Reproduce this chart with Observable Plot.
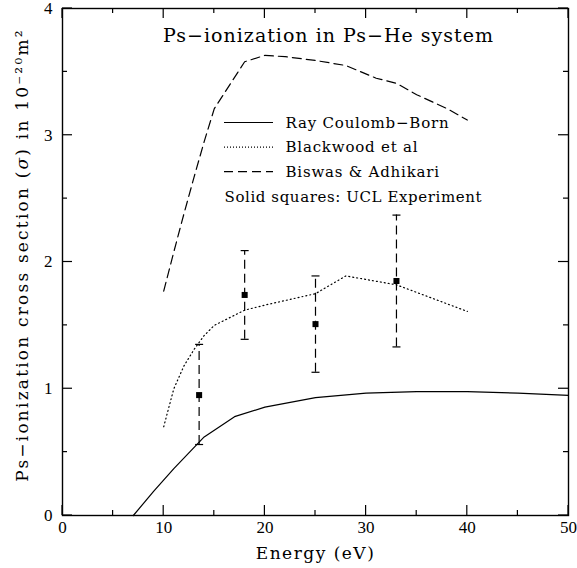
<!DOCTYPE html>
<html><head><meta charset="utf-8">
<script src="https://cdn.jsdelivr.net/npm/d3@7"></script>
<script src="https://cdn.jsdelivr.net/npm/@observablehq/plot@0.6"></script>
<style>
body{margin:0;background:#fff;}
</style>
</head><body><div id="chart"></div>
<script>
// ---- data ----
const energyRay = [7, 9, 11, 14, 17, 20, 25, 30, 35, 40, 45, 50];
const sigmaRay = [0, 0.19, 0.37, 0.62, 0.78, 0.855, 0.93, 0.965, 0.978, 0.977, 0.965, 0.947];
const energyBlackwood = [10, 11, 12, 13, 14, 15, 18, 20, 25, 28, 33, 35, 40];
const sigmaBlackwood = [0.70, 1.0, 1.18, 1.31, 1.42, 1.50, 1.62, 1.66, 1.75, 1.89, 1.82, 1.76, 1.61];
const energyBiswas = [10, 11, 12, 13, 14, 15, 18, 20, 22, 25, 28, 31, 33, 35, 38, 40];
const sigmaBiswas = [1.77, 2.08, 2.38, 2.67, 2.95, 3.21, 3.58, 3.63, 3.62, 3.59, 3.55, 3.45, 3.41, 3.32, 3.21, 3.12];
const energyUCL = [13.5, 18, 25, 33];
const sigmaUCL = [0.95, 1.74, 1.51, 1.85];
const sigmaUCLLow = [0.56, 1.39, 1.13, 1.33];
const sigmaUCLHigh = [1.35, 2.09, 1.89, 2.37];
const xTicks = [0, 10, 20, 30, 40, 50];
const xMinorTicks = [5, 15, 25, 35, 45];
const yTicks = [0, 1, 2, 3, 4];
const yMinorTicks = [0.5, 1.5, 2.5, 3.5];
const legendLabels = ["Ray Coulomb\u2212Born", "Blackwood et al", "Biswas & Adhikari"];
const legendNote = "Solid squares: UCL Experiment";
const title = "Ps\u2212ionization in Ps\u2212He system";
const xLabel = "Energy (eV)";
const yLabel = "Ps\u2212ionization cross section (\u03c3) in 10\u207b\u00b2\u2070m\u00b2";

// ---- styles ----
const dashed = "9,5";
const dotted = "1,3";
const capSymbol = {draw(ctx) { ctx.moveTo(-4, 0); ctx.lineTo(4, 0); }};

const legendStyles = [null, "1,2", dashed];
function legendMark(index, scales, values, dims) {
  const g = d3.create("svg:g").attr("fill", "none").attr("stroke", "black").attr("stroke-width", 1.2);
  legendStyles.forEach((dash, i) => {
    const y = 122.5 + i * 24.6;
    const ln = g.append("line").attr("x1", 224).attr("x2", 273).attr("y1", y).attr("y2", y);
    if (dash) ln.attr("stroke-dasharray", dash);
  });
  return g.node();
}

// inward ticks on all four sides, placed through the plot's scales
function ticksMark(index, scales, values, dims) {
  const {x, y} = scales;
  const left = dims.marginLeft, top = dims.marginTop;
  const right = dims.width - dims.marginRight, bottom = dims.height - dims.marginBottom;
  const g = d3.create("svg:g").attr("stroke", "black").attr("stroke-width", 1.2);
  const add = (x1, y1, x2, y2) => g.append("line").attr("x1", x1).attr("y1", y1).attr("x2", x2).attr("y2", y2);
  for (const [list, len] of [[xTicks, 10], [xMinorTicks, 5]]) {
    for (const v of list) { const px = x(v); add(px, bottom, px, bottom - len); add(px, top, px, top + len); }
  }
  for (const [list, len] of [[yTicks, 10], [yMinorTicks, 5]]) {
    for (const v of list) { const py = y(v); add(left, py, left + len, py); add(right, py, right - len, py); }
  }
  return g.node();
}

const textFont = "DejaVu Serif";
const numFont = "Liberation Serif";

const plot = Plot.plot({
  width: 577, height: 568,
  marginLeft: 62, marginRight: 9, marginTop: 8, marginBottom: 53,
  x: {domain: [0, 50]},
  y: {domain: [0, 4]},
  style: {fontFamily: textFont, background: "white", color: "black", overflow: "visible"},
  marks: [
    Plot.frame({stroke: "black", strokeWidth: 1.4}),
    ticksMark,
    Plot.axisX(xTicks, {anchor: "bottom", tickSize: 0, tickPadding: 5, fontFamily: numFont, fontSize: 17, label: null, tickFormat: d => String(d)}),
    Plot.axisY(yTicks, {anchor: "left", tickSize: 0, tickPadding: 10, fontFamily: numFont, fontSize: 17, label: null, tickFormat: d => String(d)}),
    Plot.lineY(sigmaRay, {x: energyRay, stroke: "black", strokeWidth: 1.2}),
    Plot.lineY(sigmaBlackwood, {x: energyBlackwood, stroke: "black", strokeWidth: 1.2, strokeDasharray: dotted}),
    Plot.lineY(sigmaBiswas, {x: energyBiswas, stroke: "black", strokeWidth: 1.2, strokeDasharray: dashed}),
    Plot.ruleX(energyUCL, {x: energyUCL, y1: sigmaUCLLow, y2: sigmaUCLHigh, stroke: "black", strokeWidth: 1.2, strokeDasharray: dashed}),
    Plot.dot(energyUCL, {x: energyUCL, y: sigmaUCLLow, symbol: capSymbol, stroke: "black", strokeWidth: 1.2}),
    Plot.dot(energyUCL, {x: energyUCL, y: sigmaUCLHigh, symbol: capSymbol, stroke: "black", strokeWidth: 1.2}),
    Plot.dot(energyUCL, {x: energyUCL, y: sigmaUCL, symbol: "square", fill: "black", r: 3.4}),
    legendMark,
    ...legendLabels.map((l, i) => Plot.text([l], {frameAnchor: "top-left", dx: 223, dy: 114.5 + i * 24.6, textAnchor: "start", lineAnchor: "middle", fontSize: 15})),
    Plot.text([legendNote], {frameAnchor: "top-left", dx: 162, dy: 188.7, textAnchor: "start", lineAnchor: "middle", fontSize: 15}),
    Plot.text([title], {frameAnchor: "top", dx: 13, dy: 27, lineAnchor: "middle", fontSize: 19}),
    Plot.text([xLabel], {frameAnchor: "bottom", dy: 38, lineAnchor: "middle", fontSize: 17}),
    Plot.text([yLabel], {frameAnchor: "left", dx: -40, dy: -7, rotate: -90, textAnchor: "middle", lineAnchor: "middle", fontSize: 17})
  ]
});

const spacing = new Map([
  [title, "1px"], [xLabel, "1.5px"], [yLabel, "2.2px"], [legendNote, "0.6px"],
  [legendLabels[0], "0.8px"], [legendLabels[1], "0.8px"], [legendLabels[2], "0.8px"]
]);
d3.select(plot).selectAll("text").each(function() {
  const s = spacing.get(this.textContent);
  if (s) this.style.letterSpacing = s;
  if (this.textContent === yLabel) {
    const parts = yLabel.split("\u03c3");
    const t = d3.select(this);
    t.text(null);
    t.append("tspan").text(parts[0]);
    t.append("tspan").attr("font-style", "italic").text("\u03c3");
    t.append("tspan").text(parts[1]);
  }
});
document.getElementById("chart").appendChild(plot);
</script>
</body></html>
